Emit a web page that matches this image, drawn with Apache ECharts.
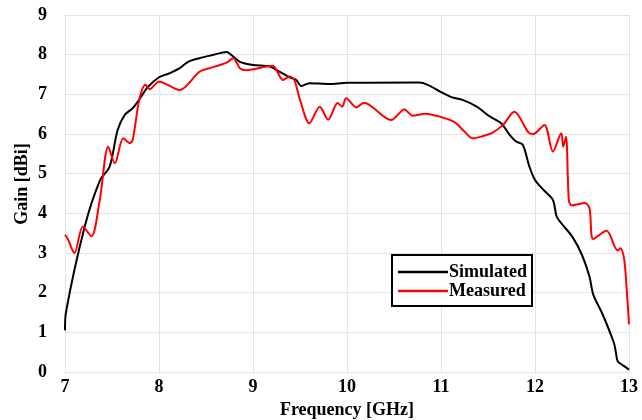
<!DOCTYPE html>
<html>
<head>
<meta charset="utf-8">
<script src="https://cdn.jsdelivr.net/npm/echarts@6/dist/echarts.min.js"></script>
<style>
  html, body { margin: 0; padding: 0; background: #fff; }
  #chart { width: 642px; height: 420px; }
</style>
</head>
<body>
<div id="chart"></div>
<script>
// Antenna gain versus frequency: simulated and measured
const simFreq = [7.00, 7.01, 7.21, 7.37, 7.475, 7.56, 7.635, 7.72, 7.81, 7.88, 8.00, 8.11, 8.22, 8.31, 8.43, 8.57, 8.72, 8.77, 8.86, 9.00, 9.18, 9.28, 9.39, 9.46, 9.515, 9.60, 9.81, 10.00, 10.77, 10.86, 10.99, 11.11, 11.23, 11.38, 11.52, 11.64, 11.73, 11.80, 11.87, 11.94, 12.00, 12.09, 12.19, 12.23, 12.28, 12.40, 12.50, 12.58, 12.62, 12.72, 12.84, 12.86, 12.88, 12.94, 13.00];
const simGain = [1.05, 1.50, 3.67, 4.82, 5.18, 6.10, 6.48, 6.65, 6.94, 7.18, 7.43, 7.53, 7.66, 7.82, 7.91, 7.99, 8.07, 7.99, 7.82, 7.74, 7.70, 7.57, 7.43, 7.36, 7.21, 7.28, 7.26, 7.29, 7.30, 7.24, 7.07, 6.93, 6.86, 6.69, 6.44, 6.27, 5.98, 5.81, 5.73, 5.18, 4.84, 4.59, 4.34, 3.92, 3.75, 3.40, 2.95, 2.40, 1.95, 1.45, 0.73, 0.50, 0.27, 0.16, 0.06];

const measFreq = [7.00, 7.03, 7.10, 7.19, 7.28, 7.37, 7.46, 7.53, 7.62, 7.69, 7.72, 7.79, 7.855, 7.90, 8.00, 8.22, 8.43, 8.54, 8.72, 8.79, 8.86, 8.93, 9.14, 9.21, 9.32, 9.39, 9.44, 9.50, 9.60, 9.71, 9.80, 9.90, 9.95, 9.99, 10.10, 10.18, 10.47, 10.61, 10.70, 10.83, 11.09, 11.16, 11.25, 11.34, 11.45, 11.54, 11.66, 11.78, 11.93, 11.98, 12.10, 12.19, 12.28, 12.30, 12.33, 12.36, 12.39, 12.53, 12.58, 12.62, 12.76, 12.88, 12.91, 12.94, 12.96, 13.00];
const measGain = [3.46, 3.35, 3.00, 3.67, 3.42, 4.34, 5.68, 5.26, 5.89, 5.77, 5.85, 6.86, 7.24, 7.13, 7.32, 7.11, 7.57, 7.66, 7.80, 7.91, 7.66, 7.61, 7.70, 7.72, 7.36, 7.45, 7.36, 6.86, 6.27, 6.69, 6.36, 6.78, 6.69, 6.90, 6.67, 6.79, 6.35, 6.62, 6.46, 6.51, 6.36, 6.27, 6.06, 5.89, 5.95, 6.02, 6.23, 6.56, 6.04, 6.00, 6.23, 5.56, 6.02, 5.68, 5.93, 4.34, 4.20, 4.26, 4.13, 3.35, 3.56, 3.06, 3.12, 2.95, 2.60, 1.20];

const seriesNames = ['Simulated', 'Measured'];

const zip = (xs, ys) => xs.map((x, i) => [x, ys[i]]);

const serif = '"Liberation Serif", "Times New Roman", serif';
const gridColor = '#e3e3e3';
const labelFont = { fontFamily: serif, fontWeight: 'bold', fontSize: 18, color: '#000' };

const chart = echarts.init(document.getElementById('chart'), null, { renderer: 'canvas' });

chart.setOption({
  animation: false,
  backgroundColor: '#ffffff',
  grid: { left: 65, right: 13, top: 15, bottom: 48, containLabel: false, outerBoundsMode: 'none' },
  xAxis: {
    type: 'value',
    min: 7, max: 13, interval: 1,
    name: 'Frequency [GHz]',
    nameLocation: 'middle',
    nameGap: 29,
    nameTextStyle: labelFont,
    axisLine: { show: true, lineStyle: { color: gridColor, width: 1 } },
    axisTick: { show: false },
    axisLabel: Object.assign({ margin: 6 }, labelFont),
    splitLine: { show: true, lineStyle: { color: gridColor, width: 1 } }
  },
  yAxis: {
    type: 'value',
    min: 0, max: 9, interval: 1,
    axisLine: { show: true, lineStyle: { color: gridColor, width: 1 } },
    axisTick: { show: false },
    axisLabel: Object.assign({ margin: 18 }, labelFont),
    splitLine: { show: true, lineStyle: { color: gridColor, width: 1 } }
  },
  graphic: [
    {
      type: 'text',
      x: 22, y: 184,
      rotation: Math.PI / 2,
      style: {
        text: 'Gain [dBi]',
        align: 'center',
        verticalAlign: 'middle',
        fill: '#000',
        font: 'bold 18px ' + serif
      }
    }
  ],
  legend: {
    orient: 'vertical',
    left: 392, top: 255,
    backgroundColor: '#fff',
    borderColor: '#000',
    borderWidth: 2,
    borderRadius: 0,
    padding: [8, 5, 6, 6],
    itemGap: 1,
    itemWidth: 50,
    itemHeight: 2.5,
    icon: 'rect',
    textStyle: Object.assign({ padding: [0, 0, 0, -4], lineHeight: 18 }, labelFont),
    data: seriesNames
  },
  series: [
    {
      name: seriesNames[0],
      type: 'line',
      data: zip(simFreq, simGain),
      smooth: 0.3,
      symbol: 'none',
      lineStyle: { color: '#000', width: 2 },
      itemStyle: { color: '#000' }
    },
    {
      name: seriesNames[1],
      type: 'line',
      data: zip(measFreq, measGain),
      smooth: 0.3,
      symbol: 'none',
      lineStyle: { color: '#ff0000', width: 2 },
      itemStyle: { color: '#ff0000' }
    }
  ]
});
</script>
</body>
</html>
